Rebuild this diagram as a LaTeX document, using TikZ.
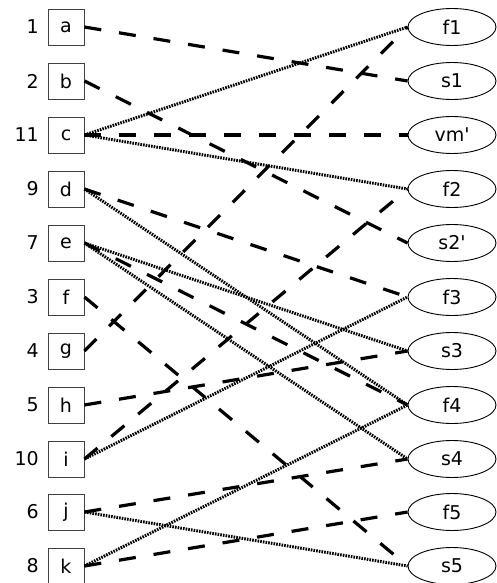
\documentclass[tikz,border=0pt]{standalone}
\usepackage{fontspec}
\setmainfont{DejaVu Sans}
\usetikzlibrary{shapes.geometric}
\begin{document}
\begin{tikzpicture}[x=1pt,y=-1pt,
  font=\fontsize{19}{22}\selectfont,
  leftbox/.style={draw=black!75,line width=0.9pt,minimum size=36pt,inner sep=0pt},
  rightoval/.style={ellipse,draw=black,line width=0.9pt,minimum width=88pt,minimum height=37pt,inner sep=0pt},
  numlabel/.style={anchor=east,inner sep=0pt},
  dashlink/.style={line width=3.2pt,dash pattern=on 17pt off 18pt},
  dotlink/.style={line width=3pt,dash pattern=on 1.6pt off 1.1pt}]
\useasboundingbox (0,0) rectangle (497,583);

% left column: boxes with their numbers
\foreach \n/\num/\y in {a/1/27,b/2/81,c/11/135,d/9/189,e/7/243,f/3/297,g/4/351,h/5/405,i/10/459,j/6/512,k/8/566}{
  \node[leftbox] (\n) at (66,\y) {\n};
  \node[numlabel] (num\n) at (39,\y) {\num};
}

% right column: ellipses
\foreach \n/\t/\y in {f1/f1/27,s1/s1/81,vm/vm\textquotesingle/135,f2/f2/189,s2/s2\textquotesingle/243,f3/f3/297,s3/s3/351,f4/f4/405,s4/s4/459,f5/f5/512,s5/s5/566}{
  \node[rightoval] (\n) at (452,\y) {\t};
}

% dashed links
\foreach \l/\r in {a/s1,b/s2,c/vm,d/f3,e/f4,f/s5,g/f1,h/s3,i/f2,j/s4,k/f5}{
  \draw[dashlink] (\l.east) -- (\r.west);
}

% dotted links
\foreach \l/\r in {c/f1,c/f2,d/f4,e/s3,e/s4,i/f3,j/s5,k/f4}{
  \draw[dotlink] (\l.east) -- (\r.west);
}
\end{tikzpicture}
\end{document}
